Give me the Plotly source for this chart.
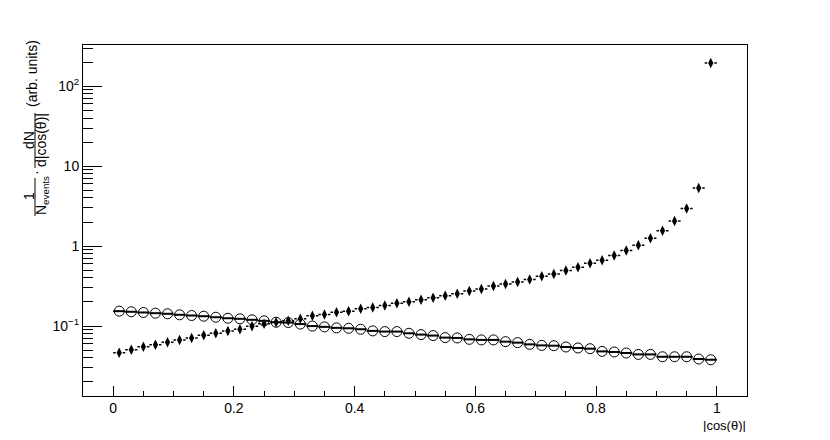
import plotly.graph_objects as go

# ---- data ----
bin_centers = [round(0.01 + 0.02 * i, 2) for i in range(50)]
bin_half_width = 0.01

filled_values = [
    0.0464, 0.0506, 0.0552, 0.0585, 0.0629, 0.0671, 0.0710, 0.0766, 0.0812, 0.0870,
    0.0912, 0.0994, 0.1066, 0.1116, 0.1162, 0.1235, 0.1348, 0.1395, 0.1491, 0.1536,
    0.1646, 0.1709, 0.1811, 0.1935, 0.2015, 0.2136, 0.2263, 0.2398, 0.2541, 0.2740,
    0.2903, 0.3167, 0.3355, 0.3556, 0.3812, 0.4195, 0.4482, 0.4946, 0.5442, 0.6110,
    0.6667, 0.7637, 0.8829, 1.029, 1.250, 1.557, 2.063, 2.946, 5.319, 194.7,
]

open_values = [
    0.1536, 0.1509, 0.1479, 0.1449, 0.1424, 0.1383, 0.1355, 0.1328, 0.1290, 0.1253,
    0.1232, 0.1197, 0.1162, 0.1116, 0.1107, 0.1059, 0.1000, 0.0977, 0.0949, 0.0938,
    0.0912, 0.0870, 0.0853, 0.0853, 0.0812, 0.0782, 0.0760, 0.0717, 0.0710, 0.0682,
    0.0671, 0.0671, 0.0638, 0.0620, 0.0590, 0.0573, 0.0568, 0.0547, 0.0532, 0.0521,
    0.0482, 0.0474, 0.0460, 0.0442, 0.0442, 0.0413, 0.0413, 0.0413, 0.0387, 0.0379,
]

x_tick_vals = [0, 0.2, 0.4, 0.6, 0.8, 1.0]
x_tick_text = ["0", "0.2", "0.4", "0.6", "0.8", "1"]
y_tick_vals = [0.1, 1, 10, 100]
y_tick_text = ["10<sup>\u22121</sup>", "1", "10", "10<sup>2</sup>"]
y_minor_vals = [m * 10 ** e for e in range(-2, 3) for m in range(2, 10)]

FONT = "Liberation Sans, Arial, Helvetica, sans-serif"

# ---- frame geometry (pixels) ----
W, H = 830, 440
L, R, T, B = 83, 747, 45, 396


def px_x(p):
    return (p - L) / (R - L)


def px_y(p):
    return (B - p) / (B - T)


# horizontal error-bar segments
open_seg_x, open_seg_y = [], []
for x, y in zip(bin_centers, open_values):
    open_seg_x += [x - bin_half_width, x + bin_half_width, None]
    open_seg_y += [y, y, None]

filled_seg_x, filled_seg_y = [], []
for x, y in zip(bin_centers, filled_values):
    filled_seg_x += [x - bin_half_width, x, None, x + bin_half_width, x, None]
    filled_seg_y += [y, y, None, y, y, None]

fig = go.Figure()
fig.add_trace(go.Scatter(x=open_seg_x, y=open_seg_y, mode="lines",
                         line=dict(color="black", width=2), hoverinfo="skip",
                         showlegend=False))
fig.add_trace(go.Scatter(x=filled_seg_x, y=filled_seg_y, mode="lines",
                         line=dict(color="black", width=1.5, dash="2.5px,3.5px"),
                         hoverinfo="skip", showlegend=False))
fig.add_trace(go.Scatter(x=bin_centers, y=open_values, mode="markers",
                         marker=dict(symbol="circle-open", size=10,
                                     color="black", line=dict(width=1, color="black")),
                         showlegend=False))
fig.add_trace(go.Scatter(x=bin_centers, y=filled_values, mode="markers",
                         marker=dict(symbol="diamond-tall", size=7.5, color="black",
                                     line=dict(width=0)),
                         showlegend=False))

fig.update_layout(
    width=W, height=H,
    margin=dict(l=L, r=W - R, t=T, b=H - B, pad=0, autoexpand=False),
    paper_bgcolor="white", plot_bgcolor="white",
    font=dict(family=FONT, size=14, color="black"),
    showlegend=False,
    xaxis=dict(
        range=[-0.05, 1.05], showgrid=False, zeroline=False,
        showline=True, linecolor="black", linewidth=1, mirror=True,
        tickmode="array", tickvals=x_tick_vals, ticktext=x_tick_text,
        ticks="inside", ticklen=10, tickcolor="black", tickwidth=1,
        ticklabelstandoff=-1,
        minor=dict(dtick=0.05, tick0=0, ticks="inside", ticklen=5,
                   tickcolor="black", tickwidth=1, showgrid=False),
        tickfont=dict(family=FONT, size=14, color="black"),
        automargin=False,
    ),
    yaxis=dict(
        type="log", range=[-1.875, 2.516], showgrid=False, zeroline=False,
        showline=True, linecolor="black", linewidth=1, mirror=True,
        tickmode="array", tickvals=y_tick_vals, ticktext=y_tick_text,
        ticks="inside", ticklen=19, tickcolor="black", tickwidth=1,
        minor=dict(tickmode="array", tickvals=y_minor_vals, ticks="inside",
                   ticklen=10, tickcolor="black", tickwidth=1, showgrid=False),
        tickfont=dict(family=FONT, size=14, color="black"),
        automargin=False,
    ),
)

ann_common = dict(xref="paper", yref="paper", showarrow=False,
                  xanchor="center", yanchor="middle",
                  font=dict(family=FONT, size=14, color="black"))

# x-axis title
fig.add_annotation(text="|cos(\u03b8)|", x=1, y=px_y(425), xref="paper", yref="paper",
                   xanchor="right", yanchor="middle", showarrow=False,
                   height=13, borderpad=0,
                   font=dict(family=FONT, size=13, color="black"))

# y-axis title built from rotated pieces
fig.add_annotation(text="(arb. units)", x=px_x(32), y=px_y(74), textangle=-90, **ann_common)
fig.add_annotation(text="dN", x=px_x(29), y=px_y(140), textangle=-90, **ann_common)
fig.add_annotation(text="d|cos(\u03b8)|", x=px_x(41), y=px_y(140), textangle=-90, **ann_common)
fig.add_annotation(text="\u00b7", x=px_x(36), y=px_y(172), textangle=-90, **ann_common)
fig.add_annotation(text="1", x=px_x(29), y=px_y(196), textangle=-90, **ann_common)
fig.add_annotation(text="N<sub>events</sub>", x=px_x(42), y=px_y(196), textangle=-90, **ann_common)

fig.add_shape(type="line", xref="paper", yref="paper",
              x0=px_x(35), x1=px_x(35), y0=px_y(113), y1=px_y(168),
              line=dict(color="black", width=1))
fig.add_shape(type="line", xref="paper", yref="paper",
              x0=px_x(35), x1=px_x(35), y0=px_y(178), y1=px_y(216),
              line=dict(color="black", width=1))

fig.write_html("out.html",
               config={"displayModeBar": False},
               post_script="document.body.style.margin='0';document.body.style.padding='0';")
